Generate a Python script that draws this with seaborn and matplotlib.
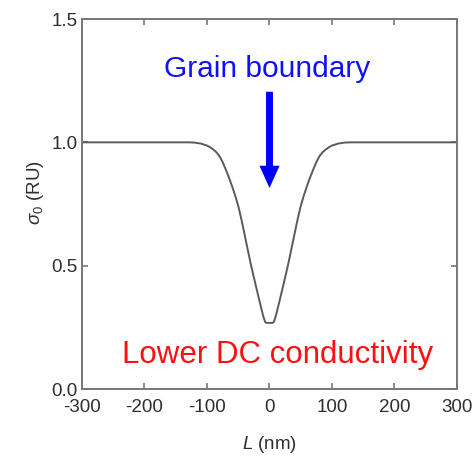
import matplotlib
matplotlib.use("Agg")
import matplotlib.pyplot as plt
import seaborn as sns
import pandas as pd

# Data
L_nm = [-300, -200, -150, -130, -120, -110, -100, -95, -90, -85, -80, -75, -70, -65, -60, -55, -50, -45,
        -40, -35, -30, -25, -20, -15, -10, -7, -5,
        5, 7, 10, 15, 20, 25, 30, 35, 40, 45, 50, 55, 60, 65, 70, 75, 80, 85, 90, 95, 100, 110, 120,
        130, 150, 200, 300]
sigma0 = [1.0, 1.0, 1.0, 1.0, 0.999, 0.995, 0.987, 0.98, 0.971, 0.96, 0.944, 0.92, 0.89, 0.858, 0.823, 0.785,
          0.742, 0.688, 0.628, 0.567, 0.507, 0.452, 0.399, 0.346, 0.295, 0.272, 0.268,
          0.268, 0.272, 0.295, 0.346, 0.399, 0.452, 0.507, 0.567, 0.628, 0.688, 0.742, 0.785, 0.823, 0.858,
          0.89, 0.92, 0.944, 0.96, 0.971, 0.98, 0.987, 0.995, 0.999, 1.0, 1.0, 1.0, 1.0]
x_ticks = [-300, -200, -100, 0, 100, 200, 300]
y_ticks = [0.0, 0.5, 1.0, 1.5]
x_ticklabels = ["-300", "-200", "-100", "0", "100", "200", "300"]
y_ticklabels = ["0.0", "0.5", "1.0", "1.5"]

df = pd.DataFrame({"L": L_nm, "sigma": sigma0})

sns.set_theme(style="ticks")
plt.rcParams['font.family'] = ['Liberation Sans', 'DejaVu Sans']
plt.rcParams['mathtext.fontset'] = 'custom'
plt.rcParams['mathtext.rm'] = 'Liberation Sans'
plt.rcParams['mathtext.it'] = 'Liberation Sans:italic'

fig = plt.figure(figsize=(4.77, 4.57), dpi=100)
ax = fig.add_axes([82/477, 1-389/457, (457-82)/477, (389-19)/457])

sns.lineplot(data=df, x="L", y="sigma", ax=ax, color="#5a5a5a", linewidth=1.4, sort=False)

ax.set_xlim(-300, 300)
ax.set_ylim(0, 1.5)
ax.set_xticks(x_ticks)
ax.set_xticklabels(x_ticklabels)
ax.set_yticks(y_ticks)
ax.set_yticklabels(y_ticklabels)

spine_c = "#777777"
for s in ax.spines.values():
    s.set_color(spine_c)
    s.set_linewidth(1.4)
    s.set_visible(True)

ax.tick_params(direction="in", length=4, width=1.2, color=spine_c,
               top=True, right=True, labelsize=13.5, labelcolor="#2e2e2e")
ax.tick_params(axis="x", pad=7.5)
ax.tick_params(axis="y", pad=3)

ax.set_xlabel(r"$\it{L}$ (nm)", fontsize=13.5, color="#2e2e2e")
ax.set_ylabel(r"$\sigma_0$ (RU)", fontsize=13.5, color="#2e2e2e")
ax.xaxis.set_label_coords(0.5, (389 - 434) / 370)
ax.yaxis.set_label_coords((46 - 82) / 375, (389 - 193) / 370)

ax.text(-3, 1.266, "Grain boundary", color="#1010ff", fontsize=21.5,
        ha="center", va="baseline")
ax.text(13, 0.104, "Lower DC conductivity", color="#ff1010", fontsize=22.5,
        ha="center", va="baseline")

ax.annotate("", xy=(0, 0.815), xytext=(0, 1.205),
            arrowprops=dict(arrowstyle="simple,head_length=16,head_width=14.5,tail_width=5",
                            mutation_scale=1, color="#0000ff", shrinkA=0, shrinkB=0, lw=0))

fig.savefig("out.png", dpi=100)
